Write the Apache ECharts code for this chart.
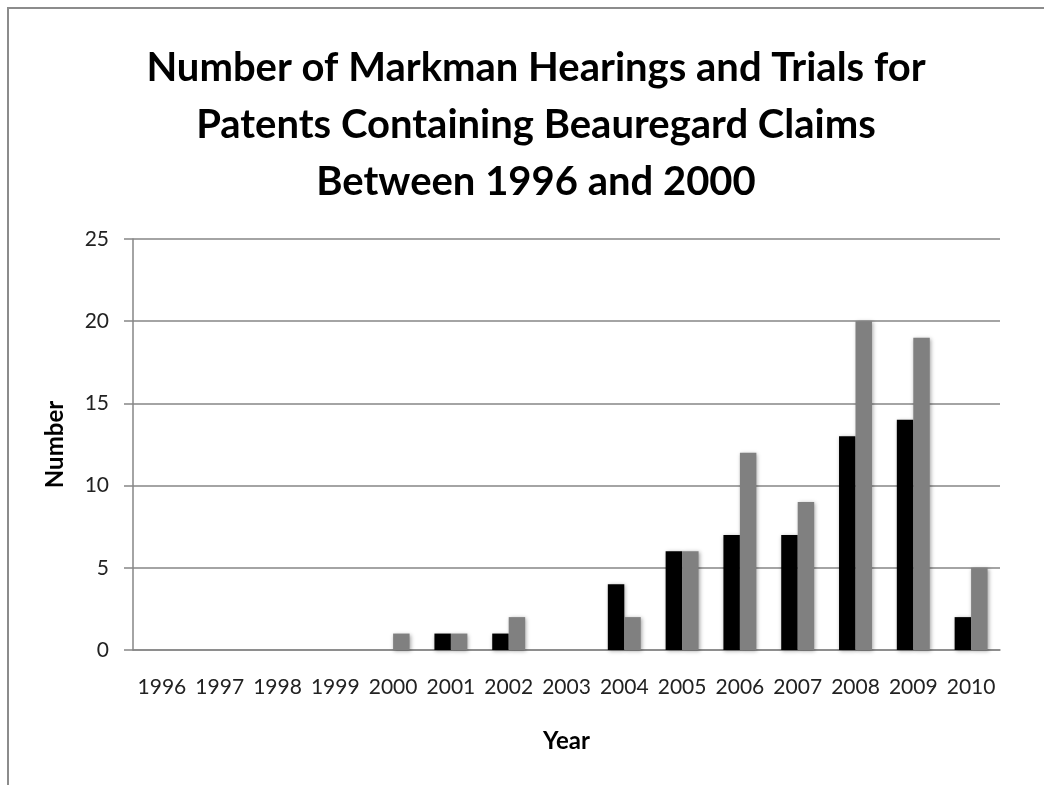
<!DOCTYPE html>
<html>
<head>
<meta charset="utf-8">
<script src="https://cdn.jsdelivr.net/npm/echarts@6/dist/echarts.min.js"></script>
<style>
  html, body { margin: 0; padding: 0; background: #fff; }
  #main { width: 1044px; height: 785px; }
</style>
</head>
<body>
<div id="main"></div>
<script>
// data
var years = ['1996', '1997', '1998', '1999', '2000', '2001', '2002', '2003',
  '2004', '2005', '2006', '2007', '2008', '2009', '2010'];
var blackValues = [0, 0, 0, 0, 0, 1, 1, 0, 4, 6, 7, 7, 13, 14, 2];
var grayValues = [0, 0, 0, 0, 1, 1, 2, 0, 2, 6, 12, 9, 20, 19, 5];
var yTicks = { min: 0, max: 25, interval: 5 };

var font = 'Lato, sans-serif';
var chart = echarts.init(document.getElementById('main'));

var barShadow = {
  shadowBlur: 4,
  shadowColor: 'rgba(0,0,0,0.35)',
  shadowOffsetX: 1,
  shadowOffsetY: 1
};

var option = {
  animation: false,
  title: {
    text: 'Number of Markman Hearings and Trials for\nPatents Containing Beauregard Claims\nBetween 1996 and 2000',
    left: 531,
    textAlign: 'center',
    top: 35,
    textStyle: {
      fontFamily: font,
      fontWeight: 'bold',
      fontSize: 40,
      lineHeight: 57,
      color: '#000'
    }
  },
  grid: { left: 133, right: 44, top: 239, bottom: 135 },
  xAxis: {
    type: 'category',
    data: years,
    name: 'Year',
    nameLocation: 'middle',
    nameGap: 79,
    nameTextStyle: { fontFamily: font, fontWeight: 'bold', fontSize: 24, color: '#000' },
    axisLine: { lineStyle: { color: '#868686', width: 1.5 } },
    axisTick: { length: 10, lineStyle: { color: '#868686', width: 1.5 } },
    axisLabel: { interval: 0, margin: 27, fontFamily: font, fontSize: 21, color: '#222' }
  },
  yAxis: {
    type: 'value',
    min: yTicks.min,
    max: yTicks.max,
    interval: yTicks.interval,
    name: 'Number',
    nameLocation: 'middle',
    nameRotate: 90,
    nameGap: 66,
    nameTextStyle: { fontFamily: font, fontWeight: 'bold', fontSize: 24, color: '#000' },
    axisLine: { show: true, lineStyle: { color: '#868686', width: 1.5 } },
    axisTick: { show: true, length: 9, lineStyle: { color: '#868686', width: 1.5 } },
    axisLabel: { margin: 24, fontFamily: font, fontSize: 21, color: '#222' },
    splitLine: { lineStyle: { color: '#868686', width: 1.5 } }
  },
  series: [
    {
      type: 'bar',
      data: blackValues,
      barGap: '0%',
      barCategoryGap: '43%',
      itemStyle: Object.assign({ color: '#000' }, barShadow)
    },
    {
      type: 'bar',
      data: grayValues,
      barGap: '0%',
      barCategoryGap: '43%',
      itemStyle: Object.assign({ color: '#808080' }, barShadow)
    }
  ],
  graphic: [
    {
      type: 'polyline',
      silent: true,
      shape: { points: [[8, 785], [8, 8], [1044, 8]] },
      style: { stroke: '#8c8c8c', lineWidth: 2, fill: null }
    }
  ]
};

chart.setOption(option);
</script>
</body>
</html>
